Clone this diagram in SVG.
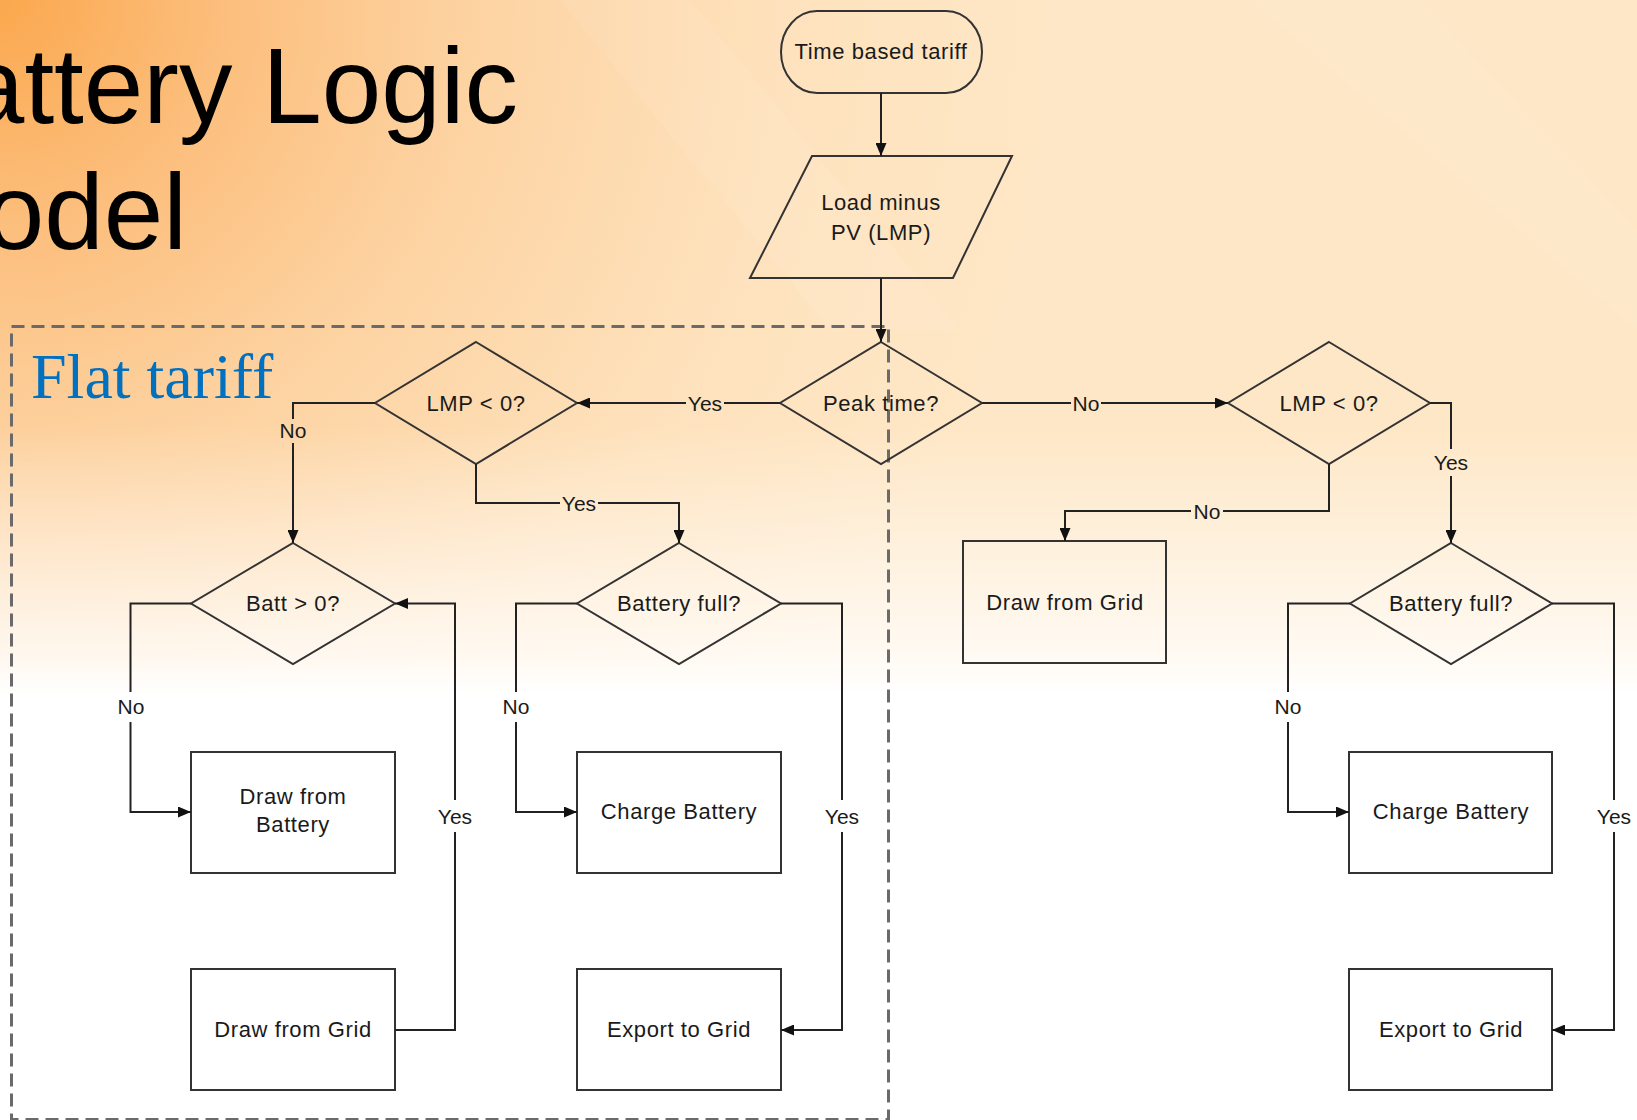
<svg xmlns="http://www.w3.org/2000/svg" width="1637" height="1120" viewBox="0 0 1637 1120">
<defs>
  <radialGradient id="bgR" cx="0" cy="0" r="1050" fx="0" fy="0" gradientUnits="userSpaceOnUse">
    <stop offset="0" stop-color="#FBA84E"/>
    <stop offset="0.22" stop-color="#FCBF7E"/>
    <stop offset="0.45" stop-color="#FDD3A2"/>
    <stop offset="0.75" stop-color="#FEE2BD"/>
    <stop offset="1" stop-color="#FEE7C6"/>
  </radialGradient>
  <linearGradient id="fadeV" x1="0" y1="0" x2="0" y2="1120" gradientUnits="userSpaceOnUse">
    <stop offset="0" stop-color="#fff"/>
    <stop offset="0.38" stop-color="#fff"/>
    <stop offset="0.5" stop-color="#fff" stop-opacity="0.55"/>
    <stop offset="0.59" stop-color="#fff" stop-opacity="0.2"/>
    <stop offset="0.62" stop-color="#fff" stop-opacity="0"/>
  </linearGradient>
  <mask id="fadeMask">
    <rect x="0" y="0" width="1637" height="1120" fill="url(#fadeV)"/>
  </mask>
  <marker id="arr" markerUnits="userSpaceOnUse" markerWidth="13" markerHeight="11" refX="13" refY="5.5" orient="auto">
    <path d="M0,0 L13,5.5 L0,11 z" fill="#111"/>
  </marker>
  <style>
    .shape { fill: none; stroke: #333; stroke-width: 2; }
    .conn { fill: none; stroke: #222; stroke-width: 2; }
    .lbl { font-family: "Liberation Sans", Arial, sans-serif; font-size: 22px; letter-spacing: 0.6px; fill: #1a1a1a; text-anchor: middle; }
    .elbl { font-family: "Liberation Sans", Arial, sans-serif; font-size: 21px; fill: #1a1a1a; text-anchor: middle; }
    .title { font-family: "Liberation Sans", Arial, sans-serif; font-size: 107px; fill: #000; text-anchor: end; }
  </style>
</defs>

<!-- background -->
<rect x="0" y="0" width="1637" height="1120" fill="#ffffff"/>
<rect x="0" y="0" width="1637" height="1120" fill="url(#bgR)" mask="url(#fadeMask)"/>
<polygon points="560,0 690,0 960,330 830,330" fill="#fff" opacity="0.07"/>
<polygon points="1250,0 1420,0 1637,230 1637,330" fill="#fff" opacity="0.07"/>

<!-- title -->
<text class="title" x="518" y="123">Battery Logic</text>
<text class="title" x="187" y="249">Model</text>

<!-- flat tariff region -->
<g id="flat-tariff">
  <rect x="11.5" y="326.5" width="877" height="793" fill="none" stroke="#6a6a6a" stroke-width="3" stroke-dasharray="13 7"/>
  <text x="31" y="398" font-family="'Liberation Serif', 'Times New Roman', serif" font-size="64" fill="#0070C0">Flat tariff</text>
</g>

<!-- nodes -->
<g id="n-time">
  <rect class="shape" x="781" y="11" width="201" height="82" rx="36" ry="41"/>
  <text class="lbl" x="881" y="59">Time based tariff</text>
</g>
<g id="n-load">
  <polygon class="shape" points="812,156 1012,156 953,278 750,278"/>
  <text class="lbl" x="881" y="210">Load minus</text>
  <text class="lbl" x="881" y="240">PV (LMP)</text>
</g>
<g id="n-peak">
  <polygon class="shape" points="881,342 982,403 881,464 780,403"/>
  <text class="lbl" x="881" y="411">Peak time?</text>
</g>
<g id="n-lmp-left">
  <polygon class="shape" points="476,342 577,403 476,464 375,403"/>
  <text class="lbl" x="476" y="411">LMP &lt; 0?</text>
</g>
<g id="n-lmp-right">
  <polygon class="shape" points="1329,342 1430,403 1329,464 1228,403"/>
  <text class="lbl" x="1329" y="411">LMP &lt; 0?</text>
</g>
<g id="n-batt">
  <polygon class="shape" points="293,543 395,603.5 293,664 191,603.5"/>
  <text class="lbl" x="293" y="611">Batt &gt; 0?</text>
</g>
<g id="n-full-left">
  <polygon class="shape" points="679,543 781,603.5 679,664 577,603.5"/>
  <text class="lbl" x="679" y="611">Battery full?</text>
</g>
<g id="n-full-right">
  <polygon class="shape" points="1451,543 1552,603.5 1451,664 1350,603.5"/>
  <text class="lbl" x="1451" y="611">Battery full?</text>
</g>
<g id="n-grid-right">
  <rect class="shape" x="963" y="541" width="203" height="122"/>
  <text class="lbl" x="1065" y="610">Draw from Grid</text>
</g>
<g id="n-draw-batt">
  <rect class="shape" x="191" y="752" width="204" height="121"/>
  <text class="lbl" x="293" y="804">Draw from</text>
  <text class="lbl" x="293" y="832">Battery</text>
</g>
<g id="n-charge-left">
  <rect class="shape" x="577" y="752" width="204" height="121"/>
  <text class="lbl" x="679" y="819">Charge Battery</text>
</g>
<g id="n-grid-left">
  <rect class="shape" x="191" y="969" width="204" height="121"/>
  <text class="lbl" x="293" y="1037">Draw from Grid</text>
</g>
<g id="n-export-left">
  <rect class="shape" x="577" y="969" width="204" height="121"/>
  <text class="lbl" x="679" y="1037">Export to Grid</text>
</g>
<g id="n-charge-right">
  <rect class="shape" x="1349" y="752" width="203" height="121"/>
  <text class="lbl" x="1451" y="819">Charge Battery</text>
</g>
<g id="n-export-right">
  <rect class="shape" x="1349" y="969" width="203" height="121"/>
  <text class="lbl" x="1451" y="1037">Export to Grid</text>
</g>

<!-- connectors -->
<g id="connectors">
  <path class="conn" d="M881,93 V156" marker-end="url(#arr)"/>
  <path class="conn" d="M881,278 V342" marker-end="url(#arr)"/>

  <path class="conn" d="M780,403 H724"/>
  <path class="conn" d="M686,403 H577" marker-end="url(#arr)"/>
  <text class="elbl" x="705" y="411">Yes</text>

  <path class="conn" d="M375,403 H293 V419"/>
  <path class="conn" d="M293,443 V543" marker-end="url(#arr)"/>
  <text class="elbl" x="293" y="438">No</text>

  <path class="conn" d="M476,464 V503 H560"/>
  <path class="conn" d="M598,503 H679 V543" marker-end="url(#arr)"/>
  <text class="elbl" x="579" y="511">Yes</text>

  <path class="conn" d="M982,403 H1071"/>
  <path class="conn" d="M1101,403 H1228" marker-end="url(#arr)"/>
  <text class="elbl" x="1086" y="411">No</text>

  <path class="conn" d="M1430,403 H1451 V449"/>
  <path class="conn" d="M1451,476 V543" marker-end="url(#arr)"/>
  <text class="elbl" x="1451" y="470">Yes</text>

  <path class="conn" d="M1329,464 V511 H1223"/>
  <path class="conn" d="M1191,511 H1065 V541" marker-end="url(#arr)"/>
  <text class="elbl" x="1207" y="519">No</text>

  <path class="conn" d="M191,603.5 H130.5 V692"/>
  <path class="conn" d="M130.5,722 V812 H191" marker-end="url(#arr)"/>
  <text class="elbl" x="131" y="714">No</text>

  <path class="conn" d="M395,1030 H455 V832"/>
  <path class="conn" d="M455,800 V603.5 H395" marker-end="url(#arr)"/>
  <text class="elbl" x="455" y="824">Yes</text>

  <path class="conn" d="M577,603.5 H516 V692"/>
  <path class="conn" d="M516,722 V812 H577" marker-end="url(#arr)"/>
  <text class="elbl" x="516" y="714">No</text>

  <path class="conn" d="M781,603.5 H842 V800"/>
  <path class="conn" d="M842,832 V1030 H781" marker-end="url(#arr)"/>
  <text class="elbl" x="842" y="824">Yes</text>

  <path class="conn" d="M1350,603.5 H1288 V692"/>
  <path class="conn" d="M1288,722 V812 H1349" marker-end="url(#arr)"/>
  <text class="elbl" x="1288" y="714">No</text>

  <path class="conn" d="M1552,603.5 H1614 V800"/>
  <path class="conn" d="M1614,832 V1030 H1552" marker-end="url(#arr)"/>
  <text class="elbl" x="1614" y="824">Yes</text>
</g>
</svg>
